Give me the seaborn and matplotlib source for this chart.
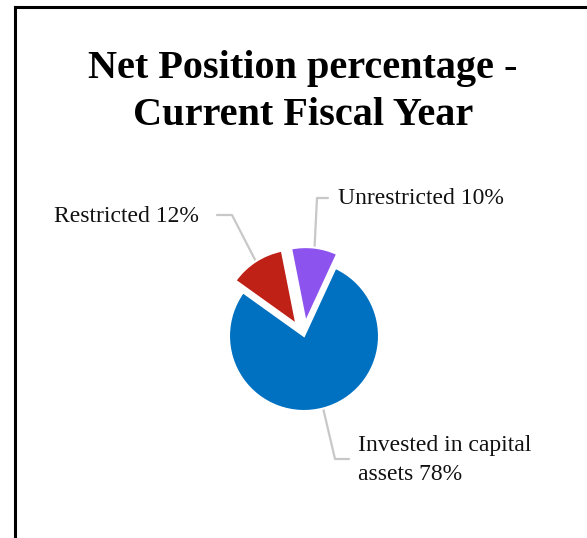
import matplotlib
matplotlib.use("Agg")
import matplotlib.pyplot as plt
import seaborn as sns
import numpy as np

# Net position shares (percent)
categories = ["Invested in capital\nassets", "Restricted", "Unrestricted"]
shares = [78, 12, 10]
colors = ["#0070C0", "#BF2117", "#8C53EE"]

title_lines = ["Net Position percentage -", "Current Fiscal Year"]

W, H = 587, 538
sns.set_theme(style="white")
plt.rcParams["font.family"] = ["Liberation Serif", "DejaVu Serif"]

fig = plt.figure(figsize=(W / 100, H / 100), dpi=100)
ax = fig.add_axes([0, 0, 1, 1])


def py(y):
    """Convert a top-down pixel row to axis y."""
    return H - y


center = (304, py(336))
radius = 75
# pull the two small slices out by a fixed offset (axis units)
pull = [0, 14, 14]
wedges, _ = ax.pie(
    shares,
    colors=colors,
    explode=pull,
    startangle=65.2,
    counterclock=False,
    center=center,
    radius=radius,
    wedgeprops=dict(edgecolor="white", linewidth=1.5),
)
ax.set_xlim(0, W)
ax.set_ylim(0, H)
ax.set_aspect("equal")
ax.axis("off")

# chart frame (top and left edges)
ax.plot([14.5, W], [py(6.5), py(6.5)], color="black", lw=2.2, solid_capstyle="projecting")
ax.plot([14.5, 14.5], [py(6.5), 0], color="black", lw=2.2, solid_capstyle="projecting")

# title
ax.text(303, py(78), title_lines[0], ha="center", va="baseline",
        fontsize=29, fontweight="bold", color="black")
ax.text(303, py(125), title_lines[1], ha="center", va="baseline",
        fontsize=29, fontweight="bold", color="black")

# label layout: (elbow, leader end, text anchor, ha)
layout = [
    ((335, 459), (349, 459), (358, 460), "left"),
    ((232, 215), (217, 215), (199, 216), "right"),
    ((317, 198), (328, 198), (338, 199), "left"),
]

for w, cat, val, (elbow, end, anchor, ha) in zip(wedges, categories, shares, layout):
    mid = np.deg2rad((w.theta1 + w.theta2) / 2)
    cx, cy = w.center
    sx, sy = cx + w.r * np.cos(mid), cy + w.r * np.sin(mid)
    ax.plot([sx, elbow[0], end[0]], [sy, py(elbow[1]), py(end[1])],
            color="#C8C8C8", lw=1.6, zorder=0)
    ax.text(anchor[0], py(anchor[1]), f"{cat} {val}%", ha=ha, va="center",
            fontsize=17, color="#111111", linespacing=1.45)

fig.savefig("out.png", dpi=100, facecolor="white")
